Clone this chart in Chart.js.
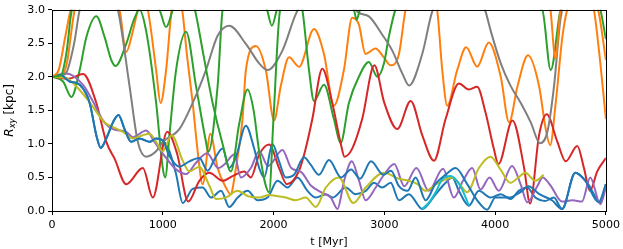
<!DOCTYPE html>
<html>
<head>
<meta charset="utf-8">
<script src="https://cdn.jsdelivr.net/npm/chart.js@4.4.0/dist/chart.umd.min.js"></script>
<style>
html, body { margin: 0; padding: 0; background: #fff; }
#wrap { width: 623px; height: 249px; }
</style>
</head>
<body>
<div id="wrap"><canvas id="chart" width="623" height="249"></canvas></div>
<script>
// axis ticks
const xTicks = [0, 1000, 2000, 3000, 4000, 5000];
const yTicks = [0.0, 0.5, 1.0, 1.5, 2.0, 2.5, 3.0];

// each orbit: times [Myr] and radius R_xy [kpc] (values > 3 are off the top)
const blue1T = [0, 70, 160, 250, 340, 400, 440, 490, 550, 600, 655, 715, 790, 880, 940, 1000, 1060, 1120, 1180, 1270, 1360, 1436, 1526, 1600, 1676, 1766, 1856, 1946, 2036, 2126, 2216, 2306, 2382, 2472, 2532, 2652, 2740, 2832, 2907, 2980, 3057, 3132, 3222, 3342, 3463, 3553, 3613, 3673, 3763, 3853, 3960, 4051, 4141, 4213, 4290, 4363, 4453, 4530, 4604, 4724, 4832, 4952, 5000];
const blue1R = [2.00, 2.03, 1.93, 1.88, 1.61, 1.13, 0.94, 1.08, 1.32, 1.43, 1.22, 1.03, 1.08, 1.03, 1.08, 1.05, 0.89, 0.55, 0.12, 0.33, 0.35, 0.20, 0.30, 0.06, 0.20, 0.30, 0.16, 0.20, 0.45, 0.35, 0.50, 0.30, 0.20, 0.25, 0.20, 0.35, 0.25, 0.30, 0.42, 0.35, 0.42, 0.16, 0.25, 0.03, 0.25, 0.42, 0.50, 0.30, 0.08, 0.30, 0.20, 0.25, 0.18, 0.30, 0.35, 0.20, 0.15, 0.20, 0.03, 0.57, 0.42, 0.13, 0.40];

const orange1T = [0, 90, 140, 175, 205, 400, 610, 670, 730, 775, 820, 865, 940, 980, 1030, 1080, 1130, 1175, 1220, 1270, 1315, 1360, 1430, 1495, 1570, 1612, 1660, 1720, 1750, 1840, 1930, 2005, 2065, 2140, 2230, 2365, 2455, 2545, 2635, 2710, 2770, 2830, 2920, 2995, 3057, 3132, 3192, 3330, 3430, 3477, 3523, 3568, 3658, 3739, 3838, 3943, 4051, 4126, 4202, 4297, 4397, 4457, 4497, 4547, 4607, 4650, 4780, 4892, 4950, 5000];
const orange1R = [2.00, 2.02, 2.25, 2.68, 3.00, 3.60, 3.00, 2.37, 2.68, 3.00, 3.20, 3.00, 2.10, 1.61, 2.10, 3.00, 3.30, 3.00, 2.30, 1.61, 0.89, 0.40, 1.15, 0.64, 0.35, 0.25, 0.64, 1.37, 2.10, 2.46, 2.10, 1.35, 1.86, 2.29, 2.15, 2.71, 2.34, 1.57, 2.10, 2.88, 2.78, 2.34, 2.42, 2.29, 2.17, 2.34, 3.00, 3.60, 3.30, 3.00, 2.10, 1.57, 2.10, 2.44, 2.15, 2.51, 2.00, 1.32, 1.86, 2.32, 1.86, 1.22, 0.98, 1.61, 2.59, 3.00, 3.60, 3.00, 2.20, 1.37];

const greenAT = [0, 100, 175, 250, 310, 400, 475, 535, 574, 670, 740, 790, 850, 940, 1000, 1022, 1060, 1120, 1210, 1300, 1390, 1410, 1495, 1540, 1700, 1940, 1985, 2030, 2150, 2260, 2320, 2365, 2455, 2545, 2605, 2680, 2770, 2860, 2937, 2997, 3040, 3100, 3300, 4425, 4502, 4590, 4750, 4950, 5000];
const greenAR = [2.00, 1.93, 1.70, 2.10, 2.59, 2.90, 2.59, 2.25, 2.16, 2.49, 2.85, 3.00, 2.68, 1.61, 0.64, 0.50, 1.13, 2.10, 2.67, 1.86, 1.03, 0.88, 1.86, 3.00, 3.60, 3.00, 2.76, 3.00, 3.60, 3.00, 2.10, 1.64, 1.88, 1.37, 1.01, 1.61, 2.00, 2.22, 2.00, 2.20, 2.59, 3.00, 3.60, 3.00, 2.10, 3.00, 3.60, 3.00, 2.56];

const redT = [0, 150, 280, 400, 490, 565, 670, 820, 910, 1040, 1130, 1230, 1330, 1420, 1540, 1630, 1735, 1795, 1870, 1960, 2050, 2120, 2230, 2290, 2350, 2440, 2530, 2610, 2640, 2710, 2800, 2910, 3000, 3117, 3238, 3342, 3448, 3553, 3673, 3763, 3838, 3913, 3988, 4030, 4157, 4262, 4315, 4397, 4466, 4562, 4637, 4742, 4802, 4856, 4922, 5000];
const redR = [2.00, 1.97, 2.04, 1.61, 1.03, 0.78, 0.40, 0.64, 0.20, 1.18, 0.85, 0.14, 0.45, 0.57, 0.45, 0.52, 0.59, 0.50, 0.84, 0.99, 0.64, 0.40, 0.60, 0.93, 1.37, 2.12, 1.61, 0.98, 0.81, 0.93, 1.37, 2.17, 1.61, 1.22, 1.64, 1.13, 0.75, 1.37, 1.90, 1.81, 1.85, 1.47, 0.93, 0.70, 1.35, 0.64, 0.11, 1.13, 1.44, 1.03, 0.74, 0.97, 0.64, 0.30, 0.59, 0.79];

const purpleT = [0, 130, 280, 370, 460, 550, 670, 730, 850, 925, 1030, 1120, 1210, 1300, 1400, 1500, 1560, 1645, 1705, 1795, 1870, 1950, 2080, 2160, 2250, 2337, 2440, 2517, 2577, 2637, 2706, 2772, 2832, 2922, 2997, 3090, 3180, 3290, 3400, 3530, 3628, 3710, 3793, 3868, 3950, 4033, 4153, 4230, 4290, 4378, 4430, 4500, 4604, 4700, 4784, 4859, 4950, 5000];
const purpleR = [2.00, 2.05, 1.88, 1.63, 1.35, 1.22, 1.18, 1.10, 1.20, 1.03, 0.79, 0.62, 0.55, 0.72, 0.86, 0.64, 0.70, 0.84, 0.50, 0.64, 0.89, 0.67, 0.91, 0.64, 0.58, 0.38, 0.27, 0.20, 0.03, 0.45, 0.74, 0.45, 0.16, 0.35, 0.54, 0.70, 0.37, 0.64, 0.30, 0.63, 0.20, 0.45, 0.64, 0.32, 0.50, 0.30, 0.67, 0.40, 0.13, 0.36, 0.50, 0.38, 0.14, 0.16, 0.14, 0.50, 0.10, 0.35];

const grayT = [0, 120, 200, 250, 420, 595, 700, 775, 850, 940, 1000, 1150, 1270, 1390, 1495, 1600, 1750, 1870, 1945, 2080, 2200, 2450, 2690, 2757, 2860, 2980, 3072, 3162, 3223, 3342, 3432, 3650, 3860, 3914, 3961, 4051, 4141, 4232, 4322, 4405, 4472, 4532, 4592, 4800, 5000];
const grayR = [2.00, 2.04, 2.50, 3.00, 3.60, 3.00, 1.86, 1.03, 0.81, 0.89, 1.03, 1.22, 1.61, 2.10, 2.61, 2.76, 2.49, 2.20, 2.10, 2.39, 2.93, 3.60, 3.20, 2.97, 2.90, 2.63, 2.39, 2.05, 1.87, 2.34, 2.97, 3.60, 3.20, 2.97, 2.68, 2.20, 1.86, 1.61, 1.32, 1.01, 1.18, 1.86, 2.88, 3.60, 3.60];

const oliveT = [0, 130, 235, 340, 475, 550, 640, 730, 820, 880, 940, 1000, 1080, 1180, 1240, 1330, 1420, 1480, 1570, 1675, 1770, 1870, 1960, 2040, 2110, 2200, 2290, 2382, 2472, 2590, 2720, 2832, 2997, 3132, 3220, 3300, 3373, 3450, 3523, 3613, 3680, 3748, 3853, 3958, 4048, 4138, 4210, 4273, 4363, 4438];
const oliveR = [2.00, 1.98, 1.83, 1.62, 1.32, 1.25, 1.18, 1.08, 1.13, 1.15, 1.03, 0.89, 1.13, 0.75, 0.59, 0.66, 0.38, 0.18, 0.20, 0.30, 0.22, 0.20, 0.24, 0.22, 0.20, 0.16, 0.20, 0.06, 0.35, 0.50, 0.12, 0.35, 0.57, 0.48, 0.45, 0.40, 0.30, 0.38, 0.45, 0.50, 0.40, 0.28, 0.64, 0.81, 0.62, 0.42, 0.50, 0.57, 0.45, 0.54];

const cyanT = [3342, 3400, 3463, 3523, 3598, 3688, 3763];
const cyanR = [0.03, 0.12, 0.28, 0.47, 0.52, 0.37, 0.08];

const blue2T = [0, 70, 160, 250, 340, 400, 440, 490, 550, 600, 655, 715, 790, 880, 940, 1000, 1060, 1150, 1240, 1330, 1405, 1470, 1540, 1600, 1660, 1750, 1825, 1870, 1915, 1990, 2050, 2110, 2185, 2275, 2335, 2410, 2500, 2610, 2700, 2780, 2880, 2990, 3060, 3132, 3210, 3282, 3373, 3460, 3560, 3643, 3748, 3838, 3928, 4003, 4123, 4229, 4302, 4400, 4513, 4604, 4724, 4814, 4934, 5000];
const blue2R = [2.00, 2.03, 1.93, 1.88, 1.61, 1.13, 0.94, 1.08, 1.32, 1.43, 1.22, 1.03, 1.08, 1.03, 1.08, 1.05, 0.82, 0.66, 0.74, 0.79, 0.60, 0.78, 0.93, 0.64, 0.80, 1.27, 0.93, 0.64, 0.50, 1.00, 0.74, 0.50, 0.54, 0.80, 0.69, 0.54, 0.76, 0.50, 0.62, 0.48, 0.74, 0.54, 0.60, 0.37, 0.30, 0.50, 0.16, 0.40, 0.55, 0.64, 0.40, 0.16, 0.02, 0.20, 0.20, 0.28, 0.37, 0.25, 0.16, 0.03, 0.57, 0.45, 0.13, 0.40];

const orange2T = [0, 60, 120, 170, 400, 4440, 4500, 4545, 4590, 4700, 4930, 5000];
const orange2R = [2.00, 2.10, 2.60, 3.00, 3.60, 3.60, 3.00, 2.27, 3.00, 3.60, 3.00, 2.25];

const greenBT = [0, 80, 130, 180, 500, 970, 1030, 1090, 1180, 1290, 1370, 1450, 1540, 1615, 1690, 1765, 1820, 1870, 1960, 2000, 2060, 2400, 2725, 2750, 2780, 3000, 5000];
const greenBR = [2.00, 2.02, 2.35, 3.00, 3.60, 3.00, 2.74, 3.00, 3.50, 3.00, 2.30, 1.61, 1.00, 0.59, 1.30, 1.81, 1.50, 0.89, 0.28, 1.40, 3.00, 3.60, 3.00, 2.85, 3.00, 3.60, 3.60];

// z = matplotlib plotting order (higher drawn on top)
const series = [
    {t: blue1T, r: blue1R, color: '#1f77b4', z: 1},
    {t: orange1T, r: orange1R, color: '#ff7f0e', z: 2},
    {t: greenAT, r: greenAR, color: '#2ca02c', z: 3},
    {t: redT, r: redR, color: '#d62728', z: 4},
    {t: purpleT, r: purpleR, color: '#9467bd', z: 5},
    {t: grayT, r: grayR, color: '#7f7f7f', z: 6},
    {t: oliveT, r: oliveR, color: '#bcbd22', z: 7},
    {t: cyanT, r: cyanR, color: '#17becf', z: 8},
    {t: blue2T, r: blue2R, color: '#1f77b4', z: 9},
    {t: orange2T, r: orange2R, color: '#ff7f0e', z: 10},
    {t: greenBT, r: greenBR, color: '#2ca02c', z: 11}
];

const FS = 11.1;
Chart.defaults.font.family = 'DejaVu Sans';
Chart.defaults.font.size = FS;
Chart.defaults.color = '#000';

// box around the axes, like matplotlib spines
const frame = {
    id: 'frame',
    afterDatasetsDraw(chart) {
        const a = chart.chartArea, c = chart.ctx;
        c.save();
        c.strokeStyle = '#000';
        c.lineWidth = 1;
        c.strokeRect(Math.round(a.left) + 0.5, Math.round(a.top) + 0.5, Math.round(a.right - a.left), Math.round(a.bottom - a.top));
        c.restore();
    }
};

// y title with italic R and subscript xy
const yTitle = {
    id: 'yTitle',
    afterDraw(chart) {
        const c = chart.ctx, a = chart.chartArea;
        const fs = 12;
        const big = 'italic ' + fs + 'px "DejaVu Sans"';
        const small = 'italic ' + (fs * 0.7).toFixed(1) + 'px "DejaVu Sans"';
        const norm = fs + 'px "DejaVu Sans"';
        c.save();
        c.translate(10, (a.top + a.bottom) / 2);
        c.rotate(-Math.PI / 2);
        c.fillStyle = '#000';
        c.textBaseline = 'middle';
        c.font = big; const wR = c.measureText('R').width;
        c.font = small; const wS = c.measureText('xy').width;
        c.font = norm; const wK = c.measureText(' [kpc]').width;
        let x = -(wR + wS + wK) / 2;
        c.font = big; c.fillText('R', x, 0); x += wR;
        c.font = small; c.fillText('xy', x, 3); x += wS;
        c.font = norm; c.fillText(' [kpc]', x, 0);
        c.restore();
    }
};

const axisGrid = {drawOnChartArea: false, drawTicks: true, tickLength: 4, color: '#000', tickWidth: 1};

new Chart(document.getElementById('chart'), {
    type: 'line',
    data: {
        datasets: series.map(s => ({
            data: s.t.map((t, i) => ({x: t, y: s.r[i]})),
            borderColor: s.color,
            borderWidth: 2,
            pointRadius: 0,
            fill: false,
            cubicInterpolationMode: 'monotone',
            order: 20 - s.z,
            clip: 0
        }))
    },
    options: {
        responsive: false,
        animation: false,
        devicePixelRatio: 1,
        layout: {padding: {left: 0, top: 5, right: 16, bottom: 0}},
        plugins: {legend: {display: false}, tooltip: {enabled: false}},
        scales: {
            x: {
                type: 'linear', min: 0, max: 5000,
                afterBuildTicks: s => { s.ticks = xTicks.map(v => ({value: v})); },
                ticks: {padding: 3, maxRotation: 0, callback: v => String(v)},
                grid: axisGrid,
                border: {display: false},
                title: {display: true, text: 't [Myr]', padding: {top: 0, bottom: 0}},
                afterFit: s => { s.height = 38; }
            },
            y: {
                type: 'linear', min: 0, max: 3,
                afterBuildTicks: s => { s.ticks = yTicks.map(v => ({value: v})); },
                ticks: {padding: 3, callback: v => v.toFixed(1)},
                grid: axisGrid,
                border: {display: false},
                afterFit: s => { s.width = 52; }
            }
        }
    },
    plugins: [frame, yTitle]
});
</script>
</body>
</html>
